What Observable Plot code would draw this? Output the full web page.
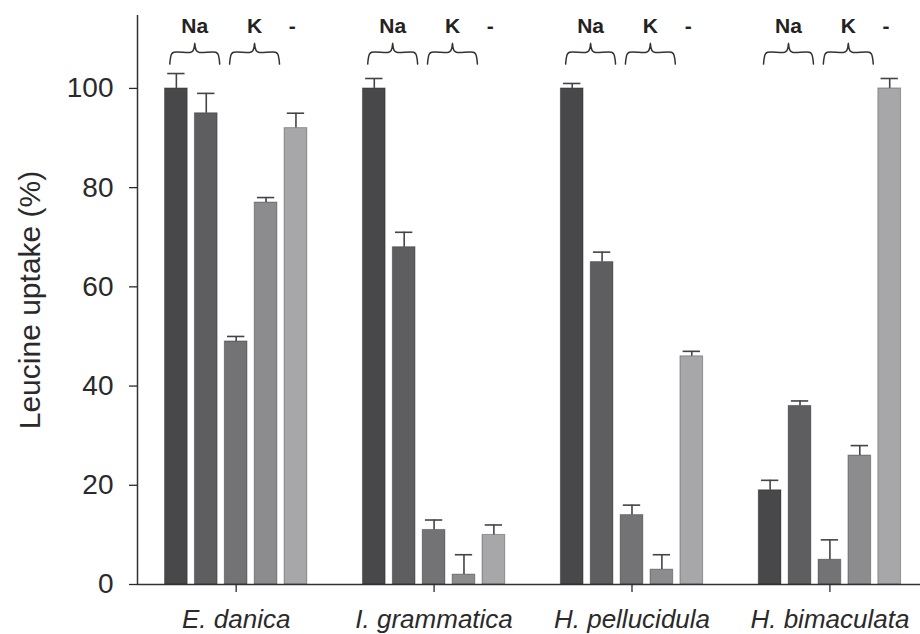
<!DOCTYPE html>
<html><head><meta charset="utf-8">
<script src="https://cdn.jsdelivr.net/npm/d3@7"></script>
<script src="https://cdn.jsdelivr.net/npm/@observablehq/plot@0.6"></script>
<style>
html,body{margin:0;padding:0;background:#fff;overflow:hidden}
svg{display:block}
</style></head><body><div id="chart"></div>
<script>
// ---- data ----
const species = ["E. danica", "I. grammatica", "H. pellucidula", "H. bimaculata"];
const treatments = ["Na-1", "Na-2", "K-1", "K-2", "none"];
const meanValues = [
  [100, 95, 49, 77, 92],
  [100, 68, 11, 2, 10],
  [100, 65, 14, 3, 46],
  [19, 36, 5, 26, 100]
];
const errorTops = [
  [103, 99, 50, 78, 95],
  [102, 71, 13, 6, 12],
  [101, 67, 16, 6, 47],
  [21, 37, 9, 28, 102]
];
const ionLabels = ["Na", "K", "-"];
const braceBars = [[0, 1], [2, 3]];
const yTicks = [0, 20, 40, 60, 80, 100];
const yLabel = "Leucine uptake (%)";
const barColors = ["#48484a", "#5e5e60", "#737375", "#8c8c8e", "#a7a7a9"];

// ---- layout (in bar-slot units) ----
const GROUP_STEP = 6.62;
const HALF_BAR = 0.38;
const HALF_CAP = 0.29;
const xDomain = [-3.3, 22.89];
const yDomain = [0, 114.7];

const rows = species.flatMap((s, g) => treatments.map((t, i) => ({
  species: s, treatment: t,
  value: meanValues[g][i], err: errorTops[g][i],
  xc: g * GROUP_STEP + (i - 2)
})));

// brace profile: [t along span, y in data units]
const braceProfile = [[0,104.9],[0.012,106.0],[0.035,106.9],[0.08,107.3],[0.42,107.3],[0.465,107.6],[0.49,108.3],[0.5,109.1],[0.51,108.3],[0.535,107.6],[0.58,107.3],[0.92,107.3],[0.965,106.9],[0.988,106.0],[1,104.9]];
const braces = [];
const ionText = [];
species.forEach((s, g) => {
  braceBars.forEach(([i0, i1], b) => {
    const x0 = g * GROUP_STEP + (i0 - 2) - 0.22;
    const x1 = g * GROUP_STEP + (i1 - 2) + 0.45;
    braceProfile.forEach(([t, y]) => braces.push({key: g + "-" + b, x: x0 + t * (x1 - x0), y}));
    ionText.push({x: (x0 + x1) / 2, text: ionLabels[b]});
  });
  ionText.push({x: g * GROUP_STEP + 2 - 0.12, text: ionLabels[2]});
});

const groupCenters = species.map((s, g) => g * GROUP_STEP);

const chart = Plot.plot({
  width: 920,
  height: 634,
  marginLeft: 137,
  marginRight: 0,
  marginTop: 15,
  marginBottom: 50,
  style: {fontFamily: "'Liberation Sans', Arial, sans-serif", color: "#2a2a2a", background: "#fff"},
  x: {domain: xDomain},
  y: {domain: yDomain},
  color: {domain: treatments, range: barColors},
  marks: [
    Plot.rectY(rows, {x1: d => d.xc - HALF_BAR, x2: d => d.xc + HALF_BAR, y1: 0, y2: "value", fill: "treatment", stroke: "#000", strokeOpacity: 0.3, strokeWidth: 1}),
    Plot.ruleX(rows, {x: "xc", y1: "value", y2: "err", stroke: "#444", strokeWidth: 1.6}),
    Plot.ruleY(rows, {y: "err", x1: d => d.xc - HALF_CAP, x2: d => d.xc + HALF_CAP, stroke: "#444", strokeWidth: 1.6}),
    Plot.line(braces, {x: "x", y: "y", z: "key", curve: "catmull-rom", stroke: "#333", strokeWidth: 1.5}),
    Plot.text(ionText, {x: "x", y: 112.6, text: "text", fontSize: 21, fontWeight: "bold", fill: "#222"}),
    Plot.ruleY([0], {stroke: "#333", strokeWidth: 1.5}),
    Plot.ruleX([xDomain[0]], {stroke: "#333", strokeWidth: 1.5}),
    Plot.axisY({ticks: yTicks, tickSize: 8, tickPadding: 16, fontSize: 28, label: null, strokeWidth: 1.3}),
    Plot.axisX({ticks: groupCenters, tickFormat: d => species[Math.round(d / GROUP_STEP)], tickSize: 8, tickPadding: 17, fontSize: 26, fontStyle: "italic", label: null, strokeWidth: 1.3}),
    Plot.text([yLabel], {frameAnchor: "left", textAnchor: "middle", dx: -107, rotate: -90, fontSize: 30, fill: "#2a2a2a"})
  ]
});
document.getElementById("chart").appendChild(chart);
</script>
</body></html>
